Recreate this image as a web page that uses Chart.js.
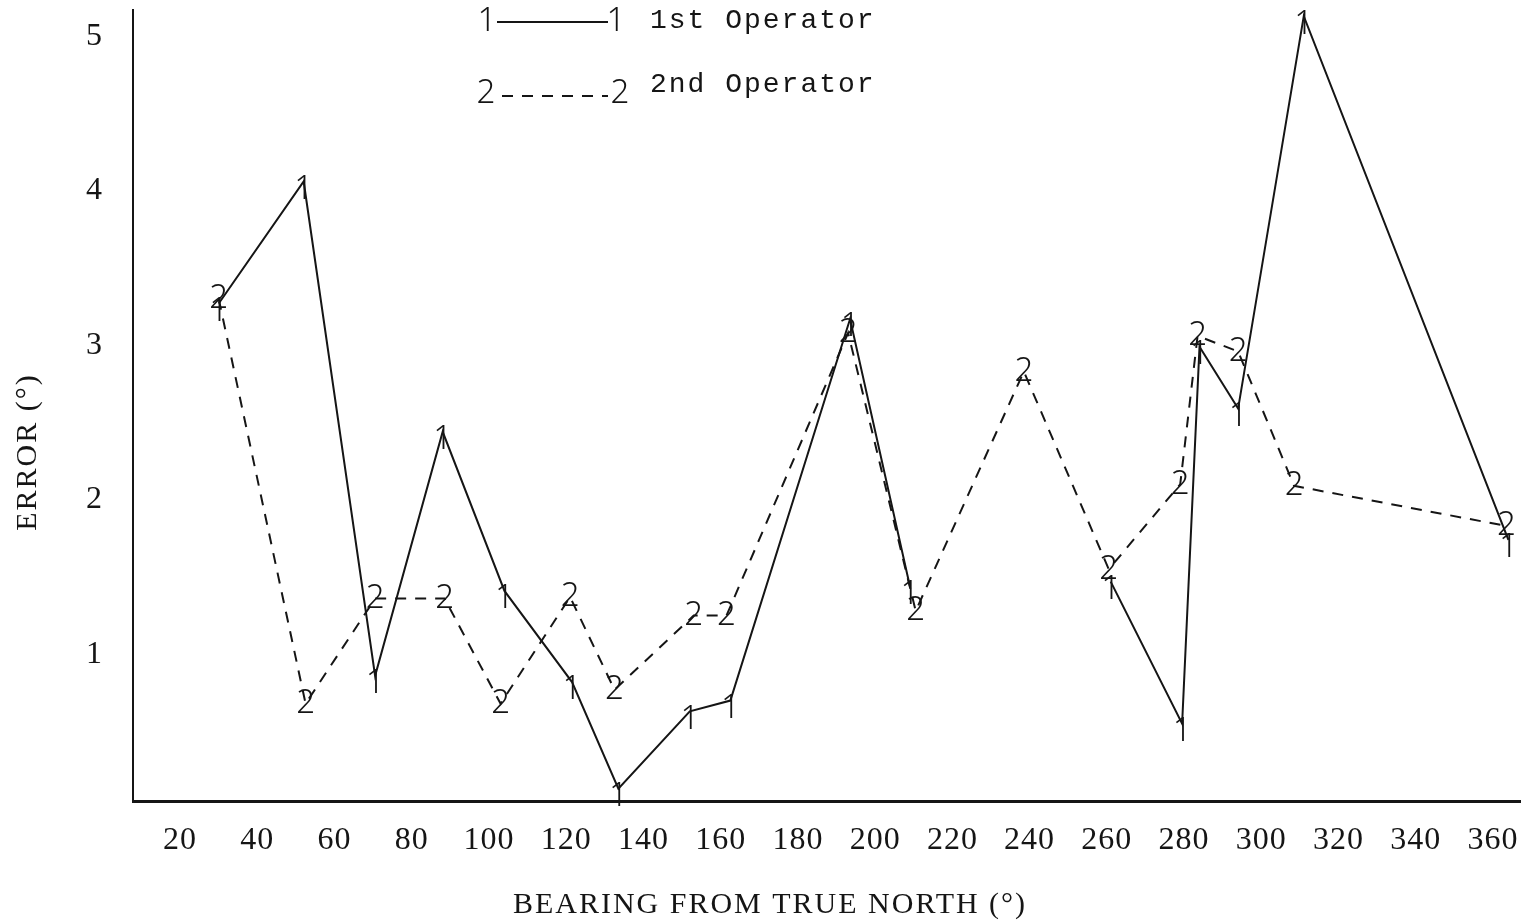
<!DOCTYPE html>
<html>
<head>
<meta charset="utf-8">
<script src="https://cdn.jsdelivr.net/npm/chart.js@4.4.1/dist/chart.umd.min.js"></script>
<style>
  html, body { margin: 0; padding: 0; background: #fff; }
  #wrap { width: 1524px; height: 924px; }
</style>
</head>
<body>
<div id="wrap"><canvas id="chart" width="1524" height="924"></canvas></div>
<script>
/**************************************
 *     DATA
 **************************************/
// 1st operator (solid); no reading at 240
const bearing1 = [30, 52, 70.5, 88, 104, 121.5, 133.5, 152, 162.5, 193.5, 209, 240, 261, 279.5, 284, 294, 311, 364];
const error1   = [3.27, 4.06, 0.86, 2.44, 1.41, 0.82, 0.13, 0.63, 0.70, 3.17, 1.44, null, 1.47, 0.55, 2.99, 2.59, 5.13, 1.74];

// 2nd operator (dashed)
const bearing2 = [30, 52.5, 70.5, 88.5, 103, 121, 132.5, 153, 161.5, 193, 210.5, 238.5, 260.5, 279, 283.5, 294, 308.5, 363.5];
const error2   = [3.30, 0.68, 1.36, 1.36, 0.68, 1.37, 0.77, 1.25, 1.25, 3.08, 1.28, 2.83, 1.55, 2.10, 3.06, 2.96, 2.09, 1.83];

const xTicks = [20, 40, 60, 80, 100, 120, 140, 160, 180, 200, 220, 240, 260, 280, 300, 320, 340, 360];
const yTicks = [1, 2, 3, 4, 5];

const INK = "#151515";

function toPoints(xs, ys) {
  return xs.map((x, i) => ({ x: x, y: ys[i] }));
}

/**************************************
 *  MARKERS, LEGEND AND AXIS TITLES
 **************************************/
const annotate = {
  id: "annotate",
  beforeDraw(chart) {
    chart.ctx.letterSpacing = "1px";
  },
  afterDatasetsDraw(chart) {
    const ctx = chart.ctx;
    ctx.save();
    ctx.letterSpacing = "0px";
    ctx.fillStyle = INK;
    ctx.font = '300 33px "Noto Sans"';
    ctx.textAlign = "center";
    ctx.textBaseline = "middle";
    chart.data.datasets.forEach((ds, i) => {
      const meta = chart.getDatasetMeta(i);
      meta.data.forEach((pt, j) => {
        if (ds.data[j].y === null) return;
        ctx.fillText(ds.marker, pt.x, pt.y + ds.markerShift);
      });
    });
    ctx.restore();
  },
  afterDraw(chart) {
    const ctx = chart.ctx;
    ctx.save();
    ctx.fillStyle = INK;
    ctx.strokeStyle = INK;

    // legend
    ctx.letterSpacing = "0px";
    ctx.font = '300 33px "Noto Sans"';
    ctx.textAlign = "center";
    ctx.textBaseline = "middle";
    ctx.fillText("1", 487, 22);
    ctx.fillText("1", 616, 22);
    ctx.fillText("2", 486, 94);
    ctx.fillText("2", 620, 94);
    ctx.lineWidth = 2;
    ctx.beginPath();
    ctx.moveTo(497, 22);
    ctx.lineTo(608, 22);
    ctx.stroke();
    ctx.setLineDash([11, 9]);
    ctx.beginPath();
    ctx.moveTo(502, 96);
    ctx.lineTo(608, 96);
    ctx.stroke();
    ctx.setLineDash([]);

    ctx.font = '28px "Liberation Mono"';
    ctx.letterSpacing = "2px";
    ctx.textAlign = "left";
    ctx.fillText("1st Operator", 650, 21);
    ctx.fillText("2nd Operator", 650, 85);

    // axis titles
    ctx.font = '30px "Liberation Serif"';
    ctx.letterSpacing = "2px";
    ctx.textAlign = "center";
    ctx.fillText("BEARING FROM TRUE NORTH (°)", 770, 905);

    ctx.translate(28, 452);
    ctx.rotate(-Math.PI / 2);
    ctx.fillText("ERROR (°)", 0, 0);
    ctx.restore();
  }
};

/**************************************
 *             THE CHART
 **************************************/
const tickFont = { family: '"Liberation Serif"', size: 32 };

new Chart(document.getElementById("chart"), {
  type: "line",
  data: {
    datasets: [
      {
        label: "1st Operator",
        data: toPoints(bearing1, error1),
        borderColor: INK,
        borderWidth: 2,
        pointRadius: 0,
        spanGaps: false,
        marker: "1",
        markerShift: 8
      },
      {
        label: "2nd Operator",
        data: toPoints(bearing2, error2),
        borderColor: INK,
        borderWidth: 2,
        borderDash: [11, 9],
        pointRadius: 0,
        marker: "2",
        markerShift: 0
      }
    ]
  },
  options: {
    responsive: false,
    animation: false,
    layout: { padding: { top: 10, right: 4, left: 0, bottom: 0 } },
    plugins: { legend: { display: false }, tooltip: { enabled: false } },
    scales: {
      x: {
        type: "linear",
        min: 7.8,
        max: 367,
        afterBuildTicks: (s) => { s.ticks = xTicks.map((v) => ({ value: v })); },
        afterFit: (s) => { s.height = 123; s.paddingLeft = 0; s.paddingRight = 0; },
        grid: { display: false, drawTicks: false },
        border: { display: true, color: INK, width: 3 },
        ticks: { padding: 20, color: INK, font: tickFont, maxRotation: 0, autoSkip: false }
      },
      y: {
        type: "linear",
        min: 0.05,
        max: 5.17,
        afterBuildTicks: (s) => { s.ticks = yTicks.map((v) => ({ value: v })); },
        afterFit: (s) => { s.width = 133; s.paddingTop = 0; s.paddingBottom = 0; },
        grid: { display: false, drawTicks: false },
        border: { display: true, color: INK, width: 2 },
        ticks: { padding: 30, color: INK, font: tickFont }
      }
    }
  },
  plugins: [annotate]
});
</script>
</body>
</html>
